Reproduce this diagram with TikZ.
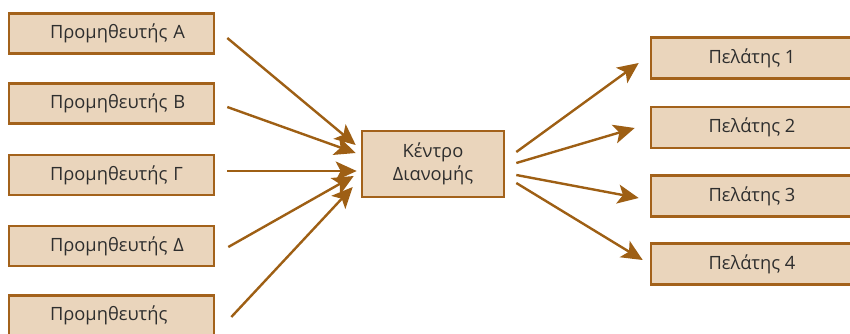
\documentclass[tikz,border=0pt]{standalone}
\usepackage{fontspec}
\setmainfont{Open Sans}
\usetikzlibrary{arrows.meta}
\definecolor{boxfill}{HTML}{EAD5BC}
\definecolor{boxline}{HTML}{A3621B}
\definecolor{flowcol}{HTML}{9E5F14}
\definecolor{txt}{HTML}{2E2E2E}
\tikzset{
	boxnode/.style={draw=boxline, fill=boxfill, line width=2.6pt, text=txt, inner sep=0pt, align=center, font=\fontsize{18.3}{23}\selectfont},
	supnode/.style={boxnode, text width=205pt, align=left, minimum height=40pt},
	flow/.style={draw=flowcol, line width=2.4pt, -{Stealth[length=21pt, width=19pt, inset=5pt]}}
}
\begin{document}
\begin{tikzpicture}[x=1pt, y=-1pt]
	\useasboundingbox (0,0) rectangle (850,333);
	\clip (0,0) rectangle (850,333);
	\foreach \n/\y/\t in {pA/33.5/Α, pB/103.5/Β, pG/175/Γ, pD/246/Δ, pE/315.5/{}}{
	\node[supnode] (\n) at (111.5,\y) {\hspace*{41pt}Προμηθευτής \t};
	}
	\node[boxnode, minimum width=142pt, minimum height=66pt] (kd) at (433,164) {Κέντρο\\Διανομής};
	\foreach \n/\y in {1/58, 2/127.5, 3/196, 4/264}{
	\node[boxnode, minimum width=202pt, minimum height=41pt] (c\n) at (752,\y) {Πελάτης \n};
	}
	% suppliers -> centre
	\foreach \n/\s/\e in {pA/{12,4.5}/{-5,-19}, pB/{12,3.5}/{-5,-11}, pG/{12,-4}/{-4,7}, pD/{13,1}/{-7,12}, pE/{16,1.5}/{-8,23}}{
	\path ([shift={(\s)}]\n.east) coordinate (s\n) ([shift={(\e)}]kd.west) coordinate (t\n);
	\draw[flow] (s\n)--(t\n);
	}
	% centre -> customers
	\foreach \n/\s/\e in {1/{11,-12}/{-11,5}, 2/{11,-1}/{-15,0.5}, 3/{11,11}/{-11,2}, 4/{11,19}/{-7,-4}}{
	\path ([shift={(\s)}]kd.east) coordinate (o\n) ([shift={(\e)}]c\n.west) coordinate (u\n);
	\draw[flow] (o\n)--(u\n);
	}
\end{tikzpicture}
\end{document}
